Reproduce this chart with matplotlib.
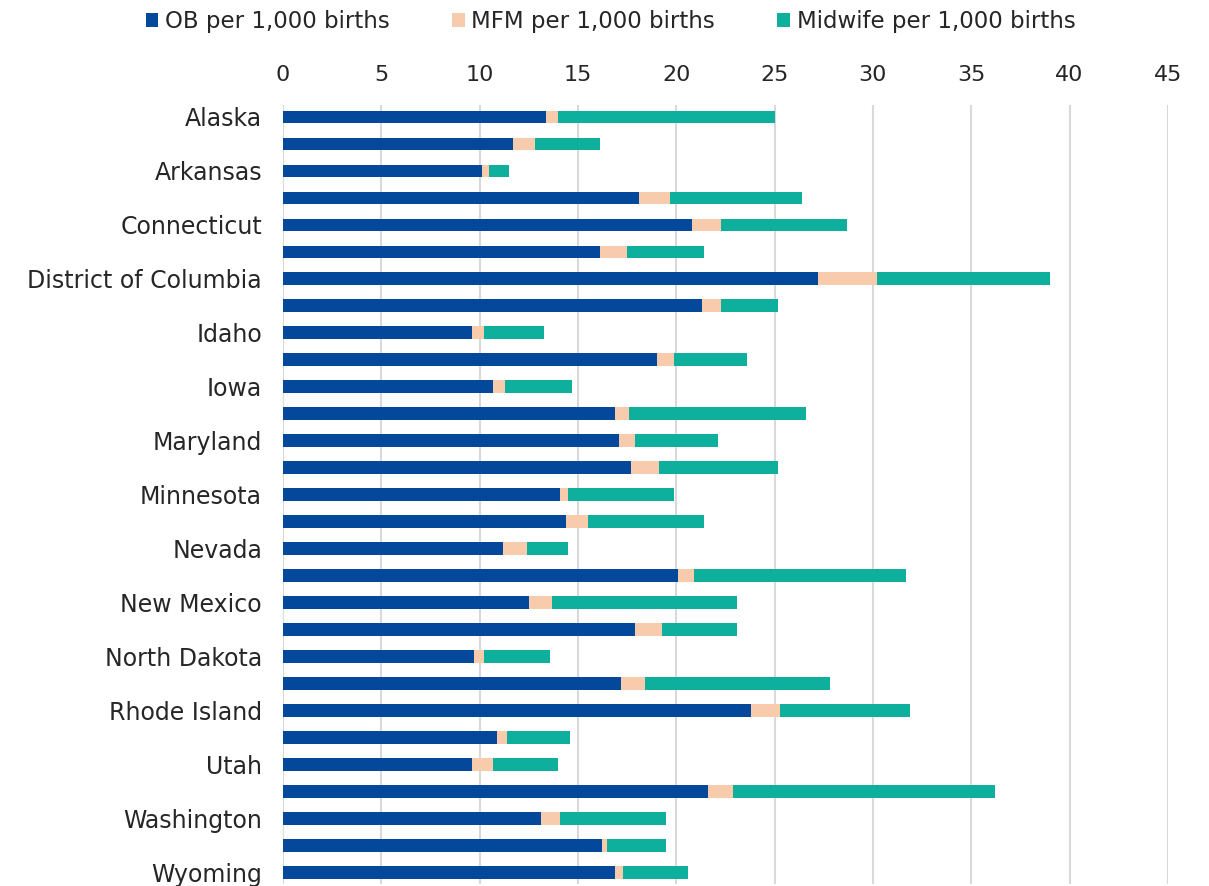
import matplotlib.pyplot as plt
import numpy as np

states = ["Alaska", "Arizona", "Arkansas", "Colorado", "Connecticut", "Delaware",
          "District of Columbia", "Hawaii", "Idaho", "Illinois", "Iowa", "Maine",
          "Maryland", "Massachusetts", "Minnesota", "Montana", "Nevada",
          "New Hampshire", "New Mexico", "New York", "North Dakota", "Oregon",
          "Rhode Island", "South Dakota", "Utah", "Vermont", "Washington",
          "Wisconsin", "Wyoming"]
ob = [13.4, 11.7, 10.1, 18.1, 20.8, 16.1, 27.2, 21.3, 9.6, 19.0, 10.7, 16.9, 17.1,
      17.7, 14.1, 14.4, 11.2, 20.1, 12.5, 17.9, 9.7, 17.2, 23.8, 10.9, 9.6, 21.6,
      13.1, 16.2, 16.9]
mfm = [0.6, 1.1, 0.4, 1.6, 1.5, 1.4, 3.0, 1.0, 0.6, 0.9, 0.6, 0.7, 0.8, 1.4, 0.4,
       1.1, 1.2, 0.8, 1.2, 1.4, 0.5, 1.2, 1.5, 0.5, 1.1, 1.3, 1.0, 0.3, 0.4]
midwife = [11.0, 3.3, 1.0, 6.7, 6.4, 3.9, 8.8, 2.9, 3.1, 3.7, 3.4, 9.0, 4.2, 6.1,
           5.4, 5.9, 2.1, 10.8, 9.4, 3.8, 3.4, 9.4, 6.6, 3.2, 3.3, 13.3, 5.4, 3.0, 3.3]

plt.rcParams['font.family'] = 'DejaVu Sans'
text_col = '#262626'

fig = plt.figure(figsize=(12.09, 8.86), dpi=100)
ax = fig.add_axes([0.234, 0.0017, 0.732, 0.88])

y = np.arange(len(states))
ob = np.array(ob)
mfm = np.array(mfm)
midwife = np.array(midwife)
h = 0.47
ax.barh(y, ob, height=h, color='#03489A', label='OB per 1,000 births')
ax.barh(y, mfm, left=ob, height=h, color='#F8CBAD', label='MFM per 1,000 births')
ax.barh(y, midwife, left=ob + mfm, height=h, color='#0EAF9D', label='Midwife per 1,000 births')

ax.set_xlim(0, 45)
ax.set_ylim(28.45, -0.45)
ax.set_xticks(range(0, 50, 5))
ax.xaxis.tick_top()
ax.set_yticks(y)
ax.set_yticklabels([s if i % 2 == 0 else '' for i, s in enumerate(states)])
ax.tick_params(axis='x', length=0, pad=14, labelsize=16, labelcolor=text_col)
ax.tick_params(axis='y', length=0, pad=15, labelsize=17, labelcolor=text_col)
ax.grid(axis='x', color='#d9d9d9', linewidth=1.5)
ax.set_axisbelow(True)
for s in ax.spines.values():
    s.set_visible(False)

fig.legend(loc='upper center', bbox_to_anchor=(0.505, 1.012), ncol=3, frameon=False,
           fontsize=16.5, handlelength=0.55, handleheight=0.55, handletextpad=0.3,
           columnspacing=2.7, labelcolor=text_col)

fig.savefig('out.png', dpi=100)
